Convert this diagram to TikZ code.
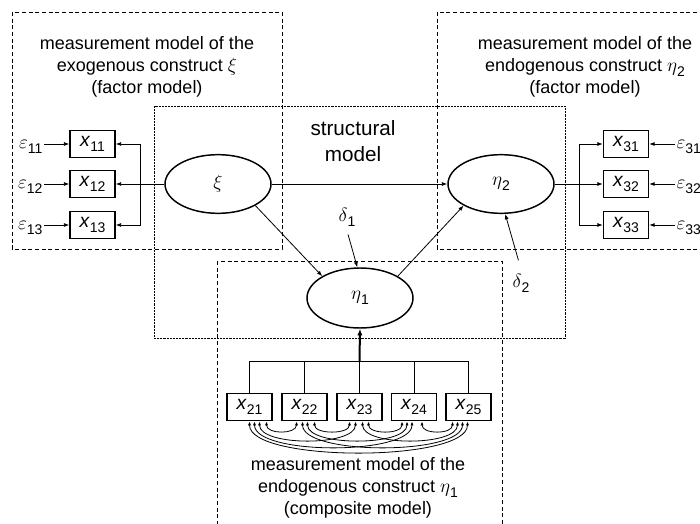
\documentclass[tikz,border=0pt]{standalone}
\usepackage{fontspec}
\setmainfont{Liberation Sans}
\usetikzlibrary{shapes.geometric,arrows.meta,calc}
\newcommand\sbs[1]{\raisebox{-0.5ex}{\fontsize{10.5}{11}\selectfont #1}}
\newcommand\vx[1]{{\fontsize{14.5}{16}\selectfont\textit{x}\sbs{#1}}}
\newcommand\veps[1]{$\varepsilon$\sbs{#1}}
\begin{document}
\begin{tikzpicture}[x=0.75pt,y=-0.75pt,
  every node/.style={font=\fontsize{13.5}{16.5}\selectfont},
  obs/.style={draw,line width=1.2pt,minimum width=33.75pt,minimum height=20.5pt,inner sep=0pt},
  lat/.style={draw,ellipse,line width=1.1pt,minimum width=79.5pt,minimum height=44pt,inner sep=0pt},
  conn/.style={line width=0.6pt},
  arr/.style={conn,-{Latex[length=4pt,width=3pt]}},
  dbl/.style={conn,{Latex[length=3pt,width=2.4pt]}-{Latex[length=3pt,width=2.4pt]}},
  dashbox/.style={line width=0.6pt,dash pattern=on 3pt off 2pt},
  dotbox/.style={line width=0.7pt,dash pattern=on 0.5pt off 0.6pt},
  txt/.style={align=center,inner sep=0pt}]
\useasboundingbox (0,0) rectangle (700,524);
\clip (0,0) rectangle (700,524);

% frames
\draw[dashbox] (12,12) rectangle (282,249);
\draw[dashbox] (437,12) rectangle (720,249);
\draw[dashbox] (217,261) rectangle (502,540);
\draw[dotbox] (154,106) rectangle (565,338);

% texts
\node[txt] (tl) at (147,67) {measurement model of the\\exogenous construct $\xi$\\(factor model)};
\node[txt] (tr) at (585,67) {measurement model of the\\endogenous construct $\eta$\sbs{2}\\(factor model)};
\node[txt,font=\fontsize{15.5}{19.5}\selectfont] (ts) at (353,141) {structural\\model};
\node[txt] (tb) at (358,488) {measurement model of the\\endogenous construct $\eta$\sbs{1}\\(composite model)};

% latent variables
\node[lat] (xi) at (218,184) {$\xi$};
\node[lat] (eta2) at (501,184) {$\eta$\sbs{2}};
\node[lat,minimum height=45pt] (eta1) at (360,298) {$\eta$\sbs{1}};

% indicators
\node[obs] (x11) at (92.5,144) {\vx{11}};
\node[obs] (x12) at (92.5,184) {\vx{12}};
\node[obs] (x13) at (92.5,225) {\vx{13}};
\node[obs] (x31) at (626,144) {\vx{31}};
\node[obs] (x32) at (626,184) {\vx{32}};
\node[obs] (x33) at (626,225) {\vx{33}};
\node[obs] (x21) at (249.5,407) {\vx{21}};
\node[obs] (x22) at (304.5,407) {\vx{22}};
\node[obs] (x23) at (359.5,407) {\vx{23}};
\node[obs] (x24) at (414,407) {\vx{24}};
\node[obs] (x25) at (468.5,407) {\vx{25}};

% errors
\node[anchor=east,inner sep=1pt] (e11) at (44,147) {\veps{11}};
\node[anchor=east,inner sep=1pt] (e12) at (44,187) {\veps{12}};
\node[anchor=east,inner sep=1pt] (e13) at (44,228) {\veps{13}};
\node[anchor=west,inner sep=1pt] (e31) at (675,147) {\veps{31}};
\node[anchor=west,inner sep=1pt] (e32) at (675,187) {\veps{32}};
\node[anchor=west,inner sep=1pt] (e33) at (675,228) {\veps{33}};
\node (d1) at (347,217) {$\delta$\sbs{1}};
\node (d2) at (521,283) {$\delta$\sbs{2}};

\foreach \k in {11,12,13}{
  \draw[arr] (x\k.west -| e\k.east) -- (x\k.west);}
\foreach \k in {31,32,33}{
  \draw[arr] (x\k.east -| e\k.west) -- (x\k.east);}

% factor model connectors
\coordinate (jl) at (140,184);
\draw[arr] (xi.west) -- (x12.east);
\draw[arr] (jl) |- (x11.east);
\draw[arr] (jl) |- (x13.east);
\coordinate (jr) at (579,184);
\draw[arr] (eta2.east) -- (x32.west);
\draw[arr] (jr) |- (x31.west);
\draw[arr] (jr) |- (x33.west);

% structural paths
\draw[arr] (xi.east) -- (eta2.west);
\draw[arr] (xi.-30) -- (eta1.150);
\draw[arr] (eta1.30) -- (eta2.-150);
\draw[arr,shorten <=3pt] (d1.south) -- (eta1.95);
\draw[arr,shorten <=7pt] (d2.north) -- (eta2.-82);

% composite
\coordinate (jb) at (359.5,361);
\draw[conn] (x21.north) -- (x21.north |- jb) -- (x25.north |- jb) -- (x25.north);
\foreach \k in {22,23,24}{\draw[conn] (x\k.north) -- (x\k.north |- jb);}
\draw[line width=1.5pt,-{Latex[length=5pt,width=4pt]}] (jb) -- (eta1.south);

% covariances
\foreach \i/\oi/\j/\oj/\dd in {1/17/2/-8/13, 2/10/3/-10/13, 3/9/4/-12/13, 4/8/5/-16/13,
  1/10/3/-4/25, 2/3/4/-7/25, 3/3/5/-11/25, 1/5/4/-2/34, 2/-2/5/-6/34, 1/0/5/-1/41}{
  \draw[dbl] ($(x2\i.south)+(\oi,0)$) .. controls ($(x2\i.south)+(\oi,\dd)$) and ($(x2\j.south)+(\oj,\dd)$) .. ($(x2\j.south)+(\oj,0)$);}
\end{tikzpicture}
\end{document}
